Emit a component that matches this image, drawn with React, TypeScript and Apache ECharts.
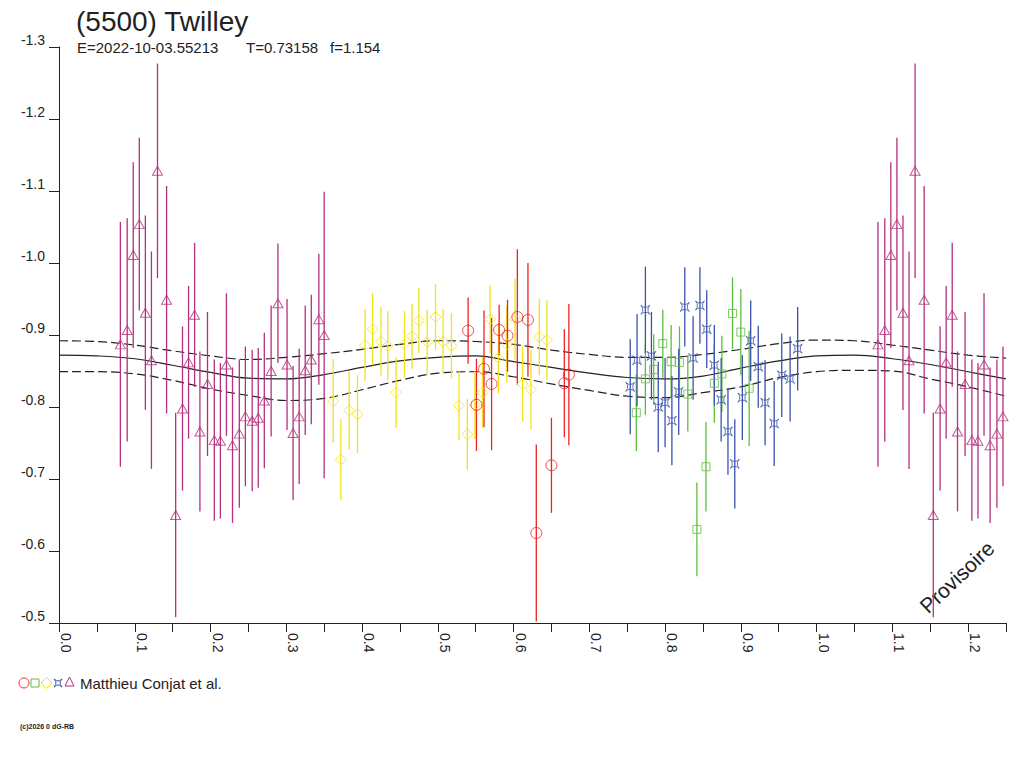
import React, { useEffect, useRef } from 'react';
import * as echarts from 'echarts';

// [phase, reduced magnitude, error]
const redPts = [
    [0.540, -0.906, 0.046], [0.551, -0.803, 0.064], [0.561, -0.853, 0.081], [0.571, -0.832, 0.092],
    [0.581, -0.907, 0.035], [0.592, -0.899, 0.050], [0.605, -0.925, 0.094], [0.619, -0.921, 0.079],
    [0.630, -0.625, 0.123], [0.650, -0.719, 0.066], [0.667, -0.833, 0.075], [0.673, -0.845, 0.098],
];

const greenPts = [
    [0.762, -0.792, 0.053], [0.774, -0.839, 0.050], [0.785, -0.852, 0.049], [0.797, -0.888, 0.047],
    [0.808, -0.863, 0.051], [0.819, -0.862, 0.050], [0.830, -0.818, 0.052], [0.842, -0.630, 0.065],
    [0.854, -0.717, 0.062], [0.865, -0.833, 0.055], [0.875, -0.846, 0.053], [0.889, -0.930, 0.050],
    [0.900, -0.904, 0.060], [0.911, -0.826, 0.080],
];

const yellowPts = [
    [0.362, -0.808, 0.058], [0.372, -0.727, 0.056], [0.383, -0.795, 0.054], [0.394, -0.790, 0.054],
    [0.404, -0.886, 0.050], [0.414, -0.908, 0.050], [0.425, -0.891, 0.048], [0.434, -0.885, 0.048],
    [0.445, -0.820, 0.049], [0.456, -0.887, 0.046], [0.466, -0.898, 0.045], [0.475, -0.920, 0.045],
    [0.486, -0.890, 0.045], [0.497, -0.925, 0.046], [0.507, -0.891, 0.045], [0.518, -0.885, 0.045],
    [0.528, -0.802, 0.048], [0.539, -0.762, 0.049], [0.549, -0.803, 0.047], [0.559, -0.820, 0.049],
    [0.569, -0.922, 0.047], [0.580, -0.868, 0.049], [0.591, -0.887, 0.053], [0.602, -0.922, 0.056],
    [0.612, -0.832, 0.052], [0.623, -0.824, 0.055], [0.634, -0.897, 0.053], [0.644, -0.893, 0.055],
];

const bluePts = [
    [0.754, -0.828, 0.066], [0.763, -0.865, 0.064], [0.774, -0.935, 0.060], [0.782, -0.871, 0.061],
    [0.791, -0.800, 0.063], [0.800, -0.806, 0.062], [0.809, -0.781, 0.062], [0.818, -0.821, 0.060],
    [0.826, -0.939, 0.055], [0.837, -0.868, 0.058], [0.846, -0.941, 0.053], [0.855, -0.908, 0.054],
    [0.865, -0.858, 0.056], [0.874, -0.810, 0.058], [0.883, -0.766, 0.060], [0.892, -0.721, 0.062],
    [0.902, -0.813, 0.059], [0.913, -0.892, 0.056], [0.923, -0.856, 0.057], [0.932, -0.806, 0.059],
    [0.944, -0.777, 0.059], [0.954, -0.844, 0.058], [0.965, -0.839, 0.059], [0.975, -0.881, 0.058],
];

const magentaPts = [
    [0.081, -0.887, 0.170], [0.090, -0.907, 0.155], [0.098, -1.011, 0.129], [0.106, -1.054, 0.120],
    [0.114, -0.931, 0.135], [0.122, -0.865, 0.151], [0.130, -1.128, 0.149], [0.142, -0.949, 0.158],
    [0.154, -0.650, 0.142], [0.163, -0.798, 0.114], [0.171, -0.862, 0.106], [0.179, -0.928, 0.100],
    [0.186, -0.766, 0.111], [0.196, -0.832, 0.100], [0.205, -0.754, 0.112], [0.213, -0.753, 0.108],
    [0.221, -0.859, 0.099], [0.229, -0.747, 0.108], [0.238, -0.763, 0.103], [0.246, -0.787, 0.097],
    [0.255, -0.781, 0.098], [0.263, -0.785, 0.097], [0.271, -0.809, 0.094], [0.280, -0.850, 0.091],
    [0.289, -0.944, 0.083], [0.301, -0.859, 0.091], [0.309, -0.764, 0.093], [0.317, -0.787, 0.094],
    [0.325, -0.851, 0.090], [0.333, -0.866, 0.090], [0.343, -0.922, 0.091], [0.350, -0.900, 0.199],
];

// fitted curve and its envelope, read every 0.05 in phase
const fitPhase = [0, 0.05, 0.1, 0.15, 0.2, 0.25, 0.3, 0.35, 0.4, 0.45, 0.5, 0.55, 0.6,
    0.65, 0.7, 0.75, 0.8, 0.85, 0.9, 0.95, 1.0, 1.05, 1.1, 1.15, 1.2, 1.25];
const fitMid = [-0.872, -0.871, -0.867, -0.858, -0.848, -0.840, -0.839, -0.845, -0.855, -0.864, -0.869, -0.871, -0.863,
    -0.855, -0.847, -0.841, -0.839, -0.843, -0.854, -0.864, -0.871, -0.872, -0.867, -0.859, -0.849, -0.839];
const fitUpper = [-0.892, -0.891, -0.886, -0.878, -0.871, -0.866, -0.869, -0.874, -0.880, -0.887, -0.892, -0.891, -0.887,
    -0.879, -0.873, -0.869, -0.869, -0.873, -0.880, -0.888, -0.893, -0.892, -0.886, -0.879, -0.872, -0.868];
const fitLower = [-0.849, -0.849, -0.846, -0.837, -0.825, -0.816, -0.809, -0.812, -0.824, -0.837, -0.847, -0.849, -0.842,
    -0.832, -0.823, -0.815, -0.813, -0.820, -0.828, -0.841, -0.849, -0.851, -0.850, -0.839, -0.828, -0.815];

const xLabels = [0, 0.1, 0.2, 0.3, 0.4, 0.5, 0.6, 0.7, 0.8, 0.9, 1.0, 1.1, 1.2];

const FONT = '"Liberation Sans", Arial, sans-serif';
const INK = '#222';
const RED = '#ee2222';
const GREEN = '#5cbf3c';
const YELLOW = '#f2e21a';
const BLUE = '#3a52ac';
const MAGENTA = '#b4307e';
const STAR = 'path://M0 0L3 2L7 2L10 0L8 3L8 7L10 10L7 8L3 8L0 10L2 7L2 3Z';

// phases below 0.25 are shown again one cycle later
const withRepeat = (pts: number[][]) =>
    pts.concat(pts.filter(p => p[0] + 1 <= 1.25).map(p => [p[0] + 1, p[1], p[2]]));

const errorBars = (pts: number[][], color: string) => ({
    type: 'custom',
    data: pts,
    encode: { x: 0, y: 1 },
    clip: true,
    silent: true,
    z: 2,
    renderItem: (params: any, api: any) => {
        const x = api.value(0), y = api.value(1), e = api.value(2);
        const a = api.coord([x, y - e]);
        const b = api.coord([x, y + e]);
        return {
            type: 'line',
            shape: { x1: a[0], y1: a[1], x2: b[0], y2: b[1] },
            style: { stroke: color, lineWidth: 1.3 },
        };
    },
});

const markers = (pts: number[][], color: string, symbol: string, size: any) => ({
    type: 'scatter',
    data: pts.map(p => [p[0], p[1]]),
    symbol,
    symbolSize: size,
    silent: true,
    z: 3,
    itemStyle: { color: 'rgba(0,0,0,0)', borderColor: color, borderWidth: 1 },
});

const fitLine = (vals: number[], dashed: boolean) => ({
    type: 'line',
    data: fitPhase.map((p, i) => [p, vals[i]]),
    showSymbol: false,
    smooth: 0.4,
    silent: true,
    z: 1,
    lineStyle: { color: INK, width: 1.2, type: dashed ? [9, 4] : 'solid' },
});

const App: React.FC = () => {
    const chartRef = useRef<HTMLDivElement>(null);

    useEffect(() => {
        if (!chartRef.current) return;
        const myChart = echarts.init(chartRef.current, null, { renderer: 'svg' });
        const magAll = withRepeat(magentaPts);

        const option = {
            animation: false,
            backgroundColor: '#fff',
            textStyle: { fontFamily: FONT },
            grid: { left: 59, right: 18, top: 47, bottom: 145 },
            xAxis: {
                type: 'value',
                min: 0,
                max: 1.25,
                interval: 0.05,
                axisLine: { lineStyle: { color: INK, width: 1 } },
                axisTick: { length: 9, lineStyle: { color: INK } },
                axisLabel: {
                    customValues: xLabels,
                    rotate: -90,
                    formatter: (v: number) => v.toFixed(1),
                    fontSize: 14,
                    color: INK,
                    margin: 10,
                    verticalAlign: 'bottom',
                },
                splitLine: { show: false },
            },
            yAxis: {
                type: 'value',
                inverse: true,
                min: -1.3,
                max: -0.5,
                interval: 0.1,
                axisLine: { show: true, lineStyle: { color: INK, width: 1 } },
                axisTick: { show: true, length: 10, lineStyle: { color: INK } },
                axisLabel: {
                    formatter: (v: number) => v.toFixed(1),
                    fontSize: 14,
                    color: INK,
                    margin: 14,
                    verticalAlign: 'bottom',
                },
                splitLine: { show: false },
            },
            series: [
                fitLine(fitMid, false),
                fitLine(fitUpper, true),
                fitLine(fitLower, true),
                errorBars(magAll, MAGENTA),
                markers(magAll, MAGENTA, 'triangle', [10, 9]),
                errorBars(yellowPts, YELLOW),
                markers(yellowPts, YELLOW, 'diamond', 11),
                errorBars(redPts, RED),
                markers(redPts, RED, 'circle', 11),
                errorBars(greenPts, GREEN),
                markers(greenPts, GREEN, 'rect', 8),
                errorBars(bluePts, BLUE),
                markers(bluePts, BLUE, STAR, 9),
            ],
            graphic: [
                { type: 'text', x: 76, y: 7, style: { text: '(5500) Twilley', fontSize: 28, fontFamily: FONT, fill: INK, verticalAlign: 'top' } },
                { type: 'text', x: 77, y: 40, style: { text: 'E=2022-10-03.55213', fontSize: 15, fontFamily: FONT, fill: INK, verticalAlign: 'top' } },
                { type: 'text', x: 246, y: 40, style: { text: 'T=0.73158', fontSize: 15, fontFamily: FONT, fill: INK, verticalAlign: 'top' } },
                { type: 'text', x: 330, y: 40, style: { text: 'f=1.154', fontSize: 15, fontFamily: FONT, fill: INK, verticalAlign: 'top' } },
                { type: 'circle', shape: { cx: 24, cy: 683, r: 5 }, style: { fill: 'none', stroke: RED, lineWidth: 1 } },
                { type: 'rect', shape: { x: 31, y: 679, width: 8, height: 8 }, style: { fill: 'none', stroke: GREEN, lineWidth: 1 } },
                { type: 'polygon', shape: { points: [[46.5, 677.5], [52, 683], [46.5, 688.5], [41, 683]] }, style: { fill: 'none', stroke: YELLOW, lineWidth: 1 } },
                {
                    type: 'polygon',
                    shape: { points: [[54, 679], [56.7, 680.8], [59.3, 680.8], [62, 679], [60.2, 681.7], [60.2, 684.3], [62, 687], [59.3, 685.2], [56.7, 685.2], [54, 687], [55.8, 684.3], [55.8, 681.7]] },
                    style: { fill: 'none', stroke: BLUE, lineWidth: 1 },
                },
                { type: 'polygon', shape: { points: [[69.5, 677], [74, 686], [65, 686]] }, style: { fill: 'none', stroke: MAGENTA, lineWidth: 1 } },
                { type: 'text', x: 80, y: 683, style: { text: 'Matthieu Conjat et al.', fontSize: 15, fontFamily: FONT, fill: INK, verticalAlign: 'middle' } },
                { type: 'text', x: 20, y: 726, style: { text: '(c)2026 0 dG-RB', fontSize: 7, fontWeight: 'bold', fontFamily: FONT, fill: INK, verticalAlign: 'middle' } },
                {
                    type: 'text', x: 957, y: 577, rotation: 0.76,
                    style: { text: 'Provisoire', fontSize: 21, fontFamily: FONT, fill: INK, align: 'center', verticalAlign: 'middle' },
                },
            ],
        };

        myChart.setOption(option);

        return () => {
            myChart.dispose();
        };
    }, []);

    return (
        <div ref={chartRef} style={{ position: 'fixed', left: 0, top: 0, width: '1024px', height: '768px' }} />
    );
};

export default App;
